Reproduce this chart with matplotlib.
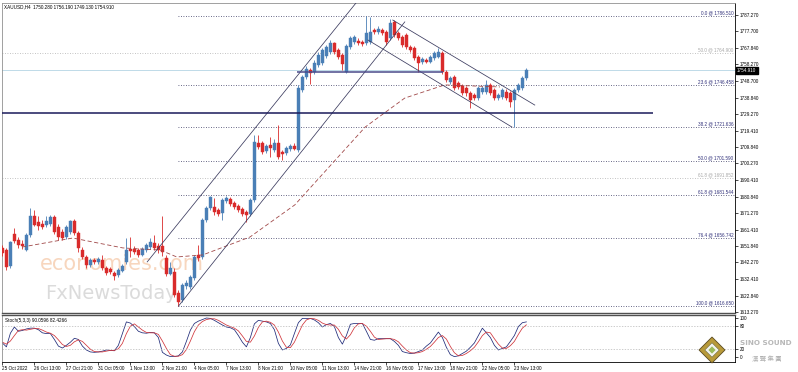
import numpy as np
import matplotlib.pyplot as plt
from matplotlib.patches import Polygon
from matplotlib.transforms import blended_transform_factory

# XAUUSD H4 candles
opens = [1650.8, 1649.6, 1640.2, 1659.0, 1655.4, 1653.1, 1649.6, 1658.4, 1669.5, 1666.0,
         1664.8, 1664.2, 1664.8, 1668.9, 1663.1, 1660.1, 1657.2, 1660.1, 1666.6, 1659.6,
         1649.6, 1645.5, 1640.8, 1643.7, 1642.6, 1643.7, 1639.0, 1638.5, 1636.1, 1634.9,
         1637.3, 1642.6, 1650.2, 1650.2, 1649.6, 1646.7, 1649.6, 1651.3, 1653.7, 1651.9,
         1651.9, 1644.9, 1635.5, 1636.7, 1624.4, 1620.3, 1628.5, 1627.9, 1633.2, 1646.7,
         1645.5, 1667.2, 1674.2, 1674.8, 1673.0, 1671.3, 1678.3, 1679.5, 1677.1, 1675.4,
         1673.6, 1671.9, 1670.7, 1678.9, 1712.3, 1712.3, 1707.6, 1711.1, 1708.2, 1712.3,
         1707.0, 1706.4, 1708.8, 1710.5, 1708.2, 1743.3, 1751.0, 1755.0, 1753.9, 1758.0,
         1759.1, 1763.2, 1765.6, 1770.9, 1766.8, 1763.8, 1753.9, 1768.5, 1771.5, 1772.0,
         1771.5, 1770.9, 1771.5, 1778.5, 1777.3, 1778.5, 1777.3, 1773.8, 1783.2, 1776.7,
         1774.4, 1775.6, 1768.5, 1767.9, 1762.7, 1759.7, 1760.9, 1759.7, 1762.1, 1762.7,
         1765.0, 1753.9, 1748.0, 1751.0, 1747.4, 1745.7, 1744.5, 1741.6, 1740.4, 1738.6,
         1742.2, 1742.2, 1746.3, 1743.3, 1738.6, 1739.2, 1742.2, 1741.6, 1737.5, 1743.3,
         1744.5, 1750.28]
highs = [1652.5, 1650.8, 1654.9, 1662.5, 1657.2, 1655.4, 1659.6, 1674.2, 1673.0, 1669.5,
         1667.2, 1669.5, 1670.1, 1670.1, 1664.8, 1661.9, 1664.2, 1667.2, 1667.8, 1660.7,
         1651.3, 1646.7, 1644.9, 1644.9, 1645.5, 1646.7, 1640.2, 1639.6, 1637.3, 1639.0,
         1641.4, 1656.6, 1657.2, 1651.9, 1650.8, 1651.3, 1653.7, 1656.6, 1658.4, 1653.7,
         1669.5, 1646.7, 1642.6, 1639.0, 1626.2, 1630.3, 1632.0, 1634.9, 1646.7, 1652.5,
         1668.3, 1675.4, 1681.2, 1680.1, 1674.2, 1680.1, 1681.2, 1680.6, 1678.3, 1676.5,
         1674.8, 1673.0, 1680.1, 1717.0, 1717.0, 1713.5, 1711.7, 1715.8, 1714.6, 1722.8,
         1708.2, 1710.5, 1711.7, 1712.3, 1746.3, 1752.1, 1757.4, 1756.2, 1760.9, 1765.6,
         1767.9, 1769.7, 1772.6, 1771.5, 1767.9, 1765.0, 1770.3, 1775.0, 1775.6, 1773.8,
         1772.6, 1786.5, 1786.1, 1779.7, 1780.8, 1779.7, 1778.5, 1784.9, 1784.3, 1777.9,
         1775.6, 1776.7, 1769.7, 1769.1, 1763.8, 1762.7, 1762.1, 1763.8, 1766.2, 1767.9,
         1766.2, 1755.0, 1751.5, 1752.1, 1748.6, 1746.8, 1745.7, 1742.7, 1741.6, 1745.7,
         1745.7, 1749.2, 1747.4, 1744.5, 1741.6, 1744.5, 1743.9, 1742.7, 1744.5, 1747.4,
         1751.5, 1756.19]
lows = [1646.1, 1637.9, 1639.0, 1653.7, 1650.8, 1650.2, 1649.0, 1657.2, 1663.7, 1661.3,
        1661.9, 1663.1, 1663.7, 1659.0, 1655.4, 1655.4, 1656.0, 1659.0, 1658.4, 1648.4,
        1644.3, 1639.0, 1639.6, 1641.4, 1641.4, 1637.9, 1634.9, 1635.5, 1632.0, 1633.8,
        1636.7, 1641.4, 1645.5, 1647.2, 1645.5, 1646.1, 1648.4, 1650.2, 1649.6, 1647.8,
        1646.1, 1634.4, 1634.9, 1622.1, 1616.65, 1619.1, 1626.7, 1626.7, 1632.0, 1643.1,
        1644.3, 1666.0, 1673.0, 1670.1, 1669.5, 1667.2, 1677.1, 1675.4, 1673.6, 1671.9,
        1669.5, 1666.0, 1669.5, 1677.7, 1708.8, 1705.8, 1706.4, 1704.1, 1707.0, 1702.9,
        1702.3, 1705.2, 1707.6, 1708.2, 1707.0, 1742.2, 1749.8, 1746.8, 1752.7, 1756.8,
        1758.0, 1762.1, 1764.4, 1764.4, 1761.5, 1755.0, 1753.3, 1767.4, 1770.3, 1769.7,
        1769.1, 1769.7, 1770.3, 1776.1, 1776.1, 1775.6, 1769.7, 1772.6, 1774.4, 1772.6,
        1768.5, 1767.4, 1765.6, 1760.9, 1753.9, 1758.6, 1759.2, 1759.2, 1760.9, 1762.1,
        1752.7, 1748.0, 1746.8, 1743.3, 1743.9, 1740.4, 1739.8, 1732.8, 1737.5, 1737.5,
        1741.0, 1741.0, 1740.4, 1737.5, 1737.5, 1738.1, 1737.5, 1733.4, 1721.6, 1742.2,
        1743.3, 1749.13]
closes = [1647.8, 1639.6, 1654.3, 1654.9, 1652.5, 1651.9, 1658.4, 1669.5, 1664.2, 1663.7,
          1663.1, 1666.6, 1668.9, 1660.1, 1657.2, 1656.6, 1663.1, 1666.6, 1659.6, 1650.8,
          1645.5, 1640.8, 1643.7, 1642.6, 1644.3, 1639.0, 1636.1, 1636.7, 1634.4, 1637.9,
          1640.2, 1649.6, 1649.0, 1648.4, 1646.7, 1650.2, 1652.5, 1654.3, 1650.8, 1649.6,
          1648.4, 1635.5, 1639.0, 1623.2, 1619.1, 1629.1, 1630.3, 1633.8, 1645.5, 1644.9,
          1667.2, 1674.2, 1680.6, 1671.9, 1670.7, 1678.9, 1680.1, 1676.5, 1674.8, 1673.0,
          1670.7, 1670.1, 1678.9, 1712.9, 1709.9, 1707.0, 1710.5, 1709.4, 1712.3, 1704.1,
          1705.8, 1709.4, 1710.5, 1708.8, 1744.5, 1751.0, 1755.6, 1753.3, 1759.1, 1763.8,
          1766.8, 1768.5, 1770.9, 1765.6, 1762.7, 1758.6, 1769.1, 1773.8, 1774.4, 1770.9,
          1770.3, 1776.7, 1777.3, 1777.3, 1779.1, 1776.7, 1771.5, 1782.6, 1775.6, 1773.8,
          1769.7, 1768.5, 1766.8, 1762.1, 1759.2, 1761.5, 1759.7, 1762.7, 1765.0, 1765.6,
          1753.9, 1749.2, 1750.4, 1744.5, 1745.1, 1741.6, 1741.6, 1737.5, 1738.6, 1744.5,
          1744.5, 1746.3, 1741.6, 1738.6, 1740.4, 1743.3, 1738.6, 1736.3, 1743.3, 1746.3,
          1750.4, 1754.91]

# Stochastic (5,3,3)
stoch_main = [36, 26, 61, 77, 66, 68, 72, 74, 74, 70, 62, 60, 60, 45, 28, 23, 30, 38, 48, 45,
              28, 18, 13, 12, 13, 15, 18, 17, 16, 30, 60, 90, 87, 78, 66, 62, 61, 63, 62, 50,
              12, 5, 1, 1, 3, 13, 40, 69, 86, 92, 96, 100, 99, 94, 88, 82, 77, 75, 70, 55,
              38, 26, 50, 85, 94, 92, 90, 86, 70, 35, 18, 22, 31, 60, 88, 99, 99, 99, 95, 88,
              77, 83, 86, 78, 50, 33, 55, 84, 86, 86, 86, 66, 45, 43, 47, 47, 47, 47, 40, 30,
              14, 11, 9, 10, 14, 18, 28, 36, 50, 64, 50, 25, 6, 1, 3, 9, 15, 25, 36, 55,
              74, 62, 50, 30, 18, 22, 26, 40, 55, 78, 88, 90.06]
stoch_signal = [38, 33, 41, 55, 68, 70, 69, 71, 73, 73, 69, 64, 61, 55, 44, 32, 27, 30, 39, 44,
                40, 30, 20, 14, 13, 13, 15, 17, 17, 21, 35, 60, 79, 85, 77, 69, 63, 62, 62, 58,
                41, 22, 6, 2, 2, 6, 19, 41, 65, 82, 91, 96, 98, 98, 94, 88, 82, 78, 74, 67,
                54, 40, 38, 54, 76, 90, 92, 89, 82, 64, 41, 25, 24, 38, 60, 82, 95, 99, 98, 94,
                87, 83, 82, 82, 71, 54, 46, 57, 75, 85, 86, 79, 66, 51, 45, 46, 47, 47, 45, 39,
                28, 18, 11, 10, 11, 14, 20, 27, 38, 50, 55, 46, 27, 11, 3, 4, 9, 16, 25, 39,
                55, 64, 62, 47, 33, 23, 22, 29, 40, 58, 74, 82.43]

# moving average knots (bar index, price)
ma_bars = [4.9, 17.6, 30.1, 34.4, 39.4, 43.6, 50.1, 61.9, 73.1, 90.7, 100.6, 110.6, 124.4]
ma_vals = [1651.3, 1656.6, 1650.8, 1650.2, 1649.6, 1645.5, 1646.7, 1657.2, 1676.0, 1721.6,
           1738.6, 1746.3, 1745.1]

# fibonacci levels
fib_labels = ['0.0', '23.6', '38.2', '50.0', '61.8', '76.4', '100.0']
fib_prices = [1786.510, 1746.458, 1721.636, 1701.590, 1681.544, 1656.742, 1616.650]
fib_start = 44
fib2_labels = ['50.0', '61.8']
fib2_prices = [1764.900, 1691.852]

# drawn lines (bar index, price)
trend_lines = [
    ([44, 100.6], [1616.65, 1783.2]),
    ([36.2, 89.4], [1642.6, 1797.2]),
    ([97.6, 133.1], [1784.3, 1734.5]),
    ([91.4, 127.4], [1772.6, 1721.6]),
]
support = 1729.85
support_end = 162.6
resist = 1753.9
resist_span = [73.6, 110.2]
last_price = 1754.91

price_ticks = [1787.270, 1777.700, 1767.840, 1758.270, 1748.700, 1738.840, 1729.270, 1719.410,
               1709.840, 1700.270, 1690.410, 1680.840, 1671.270, 1661.410, 1651.840, 1642.270,
               1632.410, 1622.840, 1613.270]
date_labels = ['25 Oct 2022', '26 Oct 13:00', '27 Oct 21:00', '31 Oct 05:00', '1 Nov 13:00',
               '2 Nov 21:00', '4 Nov 05:00', '7 Nov 13:00', '8 Nov 21:00', '10 Nov 05:00',
               '11 Nov 13:00', '14 Nov 21:00', '16 Nov 05:00', '17 Nov 13:00', '18 Nov 21:00',
               '22 Nov 05:00', '23 Nov 13:00']

plt.rcParams['font.family'] = ['Liberation Sans', 'DejaVu Sans']
fs = 3.3
bull = '#4a7fb6'
bear = '#d92b2b'

fig = plt.figure(figsize=(7.98, 3.72), dpi=100)
ax = fig.add_axes([0.0025, 0.1586, 0.9185, 0.8334])
ax2 = fig.add_axes([0.0025, 0.0269, 0.9185, 0.1263])

xmin, xmax = -0.1, 733 / 4 - 0.1
n = len(closes)
idx = np.arange(n)
o = np.array(opens); c = np.array(closes); h = np.array(highs); l = np.array(lows)
up = c >= o
cols = np.where(up, bull, bear)

ax.vlines(idx, l, h, colors=cols, lw=0.6, zorder=3)
bottoms = np.minimum(o, c)
heights = np.maximum(np.abs(c - o), 0.35)
ax.bar(idx, heights, bottom=bottoms, width=0.72, color=cols, edgecolor=cols, lw=0.3, zorder=4)

# watermark
ax.text(0.052, 0.139, 'economies.com', transform=ax.transAxes, fontsize=15,
        color='#f6ccae', alpha=0.8, family='DejaVu Sans', zorder=1)
ax.text(0.059, 0.045, 'FxNewsToday', transform=ax.transAxes, fontsize=14,
        color='#d2d2d2', alpha=0.8, family='DejaVu Sans', zorder=1)

# moving average
ax.plot(ma_bars, ma_vals, color='#a04848', lw=0.6, ls=(0, (5, 3)), zorder=5)

# fib lines
tb = blended_transform_factory(ax.transAxes, ax.transData)
for lab, p in zip(fib_labels, fib_prices):
    ax.hlines(p, fib_start, xmax, colors='#383860', lw=0.6, linestyles=(0, (1, 2)), zorder=2)
    ax.text(0.998, p + 0.4, '%s @ %.3f' % (lab, p), transform=tb, ha='right', va='bottom',
            fontsize=fs, color='#30307a')
for lab, p in zip(fib2_labels, fib2_prices):
    ax.hlines(p, xmin, xmax, colors='#b0b0b0', lw=0.6, linestyles=(0, (1, 2)), zorder=2)
    ax.text(0.998, p + 0.4, '%s @ %.3f' % (lab, p), transform=tb, ha='right', va='bottom',
            fontsize=fs, color='#a8a8a8')

# trend lines
for xs, ys in trend_lines:
    ax.plot(xs, ys, color='#3a3a5e', lw=0.55, zorder=6)
ax.hlines(support, xmin, support_end, colors='#1a1a5a', lw=1.1, zorder=6)
ax.hlines(resist, resist_span[0], resist_span[1], colors='#4a4a8a', lw=1.1, zorder=6)
ax.axhline(last_price, color='#b4d4e4', lw=0.6, zorder=2)

ax.set_xlim(xmin, xmax)
ax.set_ylim(1612.67, 1794.30)
ax.set_xticks([])
ax.yaxis.tick_right()
ax.set_yticks(price_ticks)
ax.set_yticklabels(['%.3f' % t for t in price_ticks])
ax.tick_params(axis='y', length=2, width=0.5, pad=1.5, labelsize=fs, colors='black')
ax.text(1.003, last_price, '%.3f' % last_price, transform=tb, ha='left', va='center',
        fontsize=fs, color='white', bbox=dict(facecolor='black', edgecolor='black', pad=0.8))
ax.text(0.003, 0.997, 'XAUUSD,H4  1750.280 1756.190 1749.130 1754.910', transform=ax.transAxes,
        ha='left', va='top', fontsize=fs, color='black')
for s in ['left', 'top']:
    ax.spines[s].set_color('#909090')
    ax.spines[s].set_linewidth(0.6)
ax.spines['right'].set_linewidth(0.6)
ax.spines['bottom'].set_color('#505050')
ax.spines['bottom'].set_linewidth(1.0)

# stochastic panel
ax2.plot(idx, stoch_main, color='#1f2a78', lw=0.55)
ax2.plot(idx, stoch_signal, color='#d0343a', lw=0.55)
for lv in [80, 20]:
    ax2.axhline(lv, color='#b8b8b8', lw=0.5, ls=(0, (2, 2)))
ax2.set_xlim(xmin, xmax)
ax2.set_ylim(-12.8, 107.7)
ax2.yaxis.tick_right()
ax2.set_yticks([100, 80, 20, 0])
ax2.set_yticklabels(['100', '80', '20', '0'])
ax2.tick_params(axis='y', length=2, width=0.5, pad=1.5, labelsize=fs)
ax2.set_xticks(np.arange(len(date_labels)) * 8)
ax2.set_xticklabels(date_labels, ha='left')
ax2.tick_params(axis='x', length=2, width=0.5, pad=1, labelsize=fs)
ax2.text(0.004, 0.93, 'Stoch(5,3,3) 90.0596 82.4266', transform=ax2.transAxes, ha='left', va='top',
         fontsize=fs, color='black')
ax2.spines['left'].set_color('#909090')
ax2.spines['left'].set_linewidth(0.6)
ax2.spines['top'].set_color('#505050')
ax2.spines['top'].set_linewidth(1.0)
for s in ['right', 'bottom']:
    ax2.spines[s].set_linewidth(0.6)

# logo
cx, cy = 712 / 798, 1 - 350 / 372
dx, dy = 13 / 798, 13 / 372
fig.patches.append(Polygon([[cx - dx, cy], [cx, cy + dy], [cx + dx, cy], [cx, cy - dy]],
                           closed=True, transform=fig.transFigure, facecolor='#b89a3a',
                           edgecolor='#5a4a20', lw=0.6, zorder=8))
fig.patches.append(Polygon([[cx - dx * 0.55, cy], [cx, cy + dy * 0.55], [cx + dx * 0.55, cy],
                            [cx, cy - dy * 0.55]], closed=True, transform=fig.transFigure,
                           facecolor='#f4f4ee', edgecolor='#707050', lw=0.4, zorder=9))
fig.patches.append(Polygon([[cx - dx * 0.28, cy], [cx, cy + dy * 0.28], [cx + dx * 0.28, cy],
                            [cx, cy - dy * 0.28]], closed=True, transform=fig.transFigure,
                           facecolor='#9abb5a', edgecolor='none', zorder=10))
fig.text(766 / 798, 1 - 343 / 372, 'SINO SOUND', ha='center', va='center', fontsize=5.2,
         fontweight='bold', color='#b8b8b8', family='DejaVu Sans', zorder=12)
fig.text(767 / 798, 1 - 359 / 372, '漢 聲 集 團', ha='center', va='center', fontsize=4.6,
         color='#b0b0b0', family=['Noto Sans CJK TC', 'DejaVu Sans'], zorder=12)

fig.savefig('out.png', dpi=100)
